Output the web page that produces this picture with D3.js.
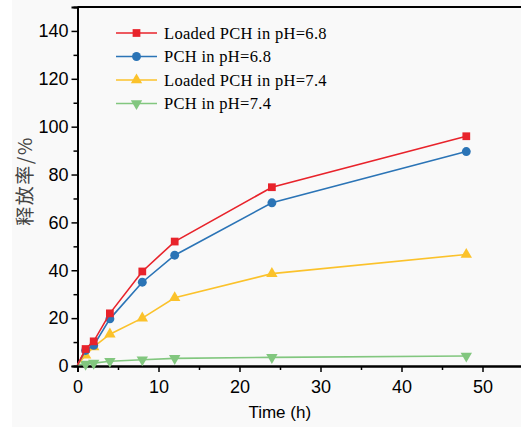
<!DOCTYPE html>
<html><head><meta charset="utf-8">
<script src="https://cdn.jsdelivr.net/npm/d3@7"></script>
<style>body{margin:0;background:#fff}svg{display:block}</style>
</head><body>
<svg id="c" width="521" height="427"></svg>
<script>
const times = [0, 1, 2, 4, 8, 12, 24, 48];
const loaded68 = [0.5, 7.1, 10.3, 22.0, 39.5, 52.0, 74.7, 96.0];
const pch68 = [0.5, 6.5, 8.6, 19.7, 35.0, 46.3, 68.2, 89.6];
const loaded74 = [0.5, 4.5, 8.0, 13.3, 20.0, 28.5, 38.6, 46.6];
const pch74 = [0.5, 0.8, 1.2, 2.0, 2.6, 3.2, 3.6, 4.2];
const seriesNames = ["Loaded PCH in pH=6.8", "PCH in pH=6.8", "Loaded PCH in pH=7.4", "PCH in pH=7.4"];
const seriesColors = ["#e8232b", "#2b74b6", "#fbc22b", "#82c77f"];
const seriesShapes = ["square", "circle", "triangle", "triangleDown"];
const xTicks = [0, 10, 20, 30, 40, 50];
const yTicks = [0, 20, 40, 60, 80, 100, 120, 140];
const xTitle = "Time (h)";
const yTitle = "释放率/%";

const svg = d3.select("#c");
svg.append("rect").attr("x", 12).attr("y", 0).attr("width", 509).attr("height", 427).attr("fill", "#f9f9f9");
const m = {l: 77.5, t: 7, r: 523, b: 366};
const x = d3.scaleLinear().domain([0, 55]).range([m.l, m.r]);
const y = d3.scaleLinear().domain([0, 150]).range([m.b, m.t]);

svg.append("line").attr("x1", m.l).attr("x2", m.r).attr("y1", m.t).attr("y2", m.t).attr("stroke", "#000").attr("stroke-width", 2);

const gx = svg.append("g").attr("transform", `translate(0,${m.b})`);
gx.call(d3.axisBottom(x).tickValues(d3.range(5, 55, 10)).tickSize(4).tickFormat(""));
const gy = svg.append("g").attr("transform", `translate(${m.l},0)`);
gy.call(d3.axisLeft(y).tickValues(d3.range(10, 150, 20)).tickSize(4).tickFormat(""));
const gx2 = svg.append("g").attr("transform", `translate(0,${m.b})`)
  .call(d3.axisBottom(x).tickValues(xTicks).tickSize(6).tickPadding(6).tickFormat(d3.format("d")));
const gy2 = svg.append("g").attr("transform", `translate(${m.l},0)`)
  .call(d3.axisLeft(y).tickValues(yTicks).tickSize(6).tickPadding(3).tickFormat(d3.format("d")));
[gx, gy, gx2, gy2].forEach(g => {
  g.selectAll("path").attr("stroke", "#000").attr("stroke-width", 2);
  g.selectAll("line").attr("stroke", "#000").attr("stroke-width", 1.5);
  g.selectAll("text").attr("font-family", "Liberation Sans, Arial, sans-serif").attr("font-size", 18).attr("fill", "#000");
});
gx2.selectAll("text").attr("dy", "0.85em");

const shapeMap = {square: d3.symbolSquare, circle: d3.symbolCircle, triangle: d3.symbolTriangle, triangleDown: d3.symbolTriangle};
const sizeMap = {square: 60, circle: 62, triangle: 56, triangleDown: 56};
function marker(sel, shape, color, cx, cy) {
  sel.append("path").attr("d", d3.symbol(shapeMap[shape], sizeMap[shape])())
    .attr("transform", `translate(${cx},${cy})` + (shape === "triangleDown" ? " rotate(180)" : ""))
    .attr("fill", color);
}

const allData = [loaded68, pch68, loaded74, pch74];
const line = d3.line().x((d, i) => x(times[i])).y(d => y(d));
const plot = svg.append("g");
[3, 2, 1, 0].forEach(k => {
  plot.append("path").datum(allData[k]).attr("d", line).attr("fill", "none")
    .attr("stroke", seriesColors[k]).attr("stroke-width", 1.6);
  allData[k].forEach((v, i) => { if (times[i] > 0) marker(plot, seriesShapes[k], seriesColors[k], x(times[i]), y(v)); });
});

const leg = svg.append("g");
seriesNames.forEach((n, k) => {
  const yy = 33 + k * 23.5;
  leg.append("line").attr("x1", 116).attr("x2", 157).attr("y1", yy).attr("y2", yy)
    .attr("stroke", seriesColors[k]).attr("stroke-width", 1.6);
  marker(leg, seriesShapes[k], seriesColors[k], 136.5, yy);
  leg.append("text").attr("x", 164).attr("y", yy).attr("dy", "0.35em")
    .attr("font-family", "Liberation Serif, Times New Roman, serif").attr("font-size", 16.5)
    .attr("letter-spacing", 0.3).attr("fill", "#000").text(n);
});

svg.append("text").attr("x", (m.l + 482) / 2).attr("y", 418).attr("text-anchor", "middle")
  .attr("font-family", "Liberation Sans, Arial, sans-serif").attr("font-size", 17).attr("fill", "#000").text(xTitle);
svg.append("text").attr("transform", `translate(32,181) rotate(-90)`).attr("text-anchor", "middle")
  .attr("font-family", "Noto Sans CJK SC, sans-serif").attr("font-size", 19).attr("letter-spacing", 1.5)
  .attr("fill", "#444").text(yTitle);
</script>
</body></html>
